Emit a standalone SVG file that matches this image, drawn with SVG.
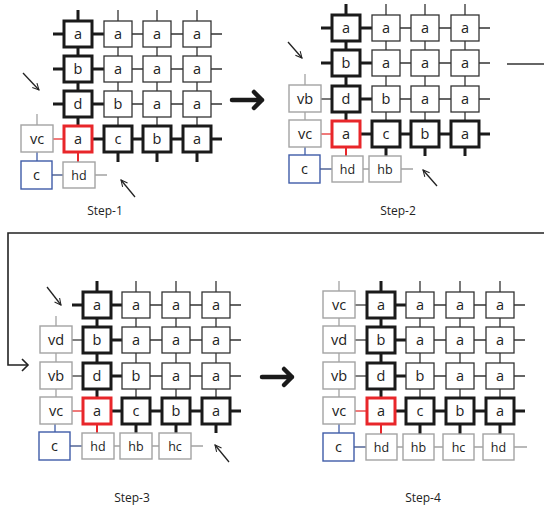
<svg xmlns="http://www.w3.org/2000/svg" width="544" height="507" viewBox="0 0 544 507">
<style>
.b{fill:#fff;stroke:#333;stroke-width:1.3}
.bk{fill:#fff;stroke:#1a1a1a;stroke-width:3}
.rd{fill:#fff;stroke:#e8262a;stroke-width:3}
.gy{fill:#fff;stroke:#a3a3a3;stroke-width:1.4}
.bl{fill:#fff;stroke:#3f5ca8;stroke-width:1.4}
.t{font-family:"Open Sans","DejaVu Sans",sans-serif;font-size:14.5px;text-anchor:middle;fill:#222}
.ts{font-family:"Open Sans","DejaVu Sans",sans-serif;font-size:12.5px;text-anchor:middle;fill:#222}
.lab{font-family:"Open Sans","DejaVu Sans",sans-serif;font-size:12px;text-anchor:middle;fill:#222}
.L{fill:none;stroke:#1a1a1a;stroke-width:3}
.l{fill:none;stroke:#333;stroke-width:1.3}
.ld{fill:none;stroke:#555;stroke-width:1.6}
.lr{fill:none;stroke:#f07a7a;stroke-width:2}
.lred{fill:none;stroke:#e8262a;stroke-width:2}
.lg{fill:none;stroke:#a3a3a3;stroke-width:1.3}
.lb{fill:none;stroke:#3f5ca8;stroke-width:1.3}
.lbg{fill:none;stroke:#7d8bb0;stroke-width:2}
.ar{fill:none;stroke:#222;stroke-width:1.3}
.big{fill:none;stroke:#1a1a1a;stroke-width:4.5;stroke-linecap:round;stroke-linejoin:round}
</style>
<defs>
<marker id="hd" viewBox="0 0 10 10" refX="9" refY="5" markerWidth="8" markerHeight="8" markerUnits="userSpaceOnUse" orient="auto">
<path d="M1,1 L9,5 L1,9" fill="none" stroke="#222" stroke-width="1.3"/>
</marker>
</defs>

<g id="connectors">
<!-- Step 1 -->
<path class="L" d="M78,10V21 M53,34H64 M53,69H64 M53,104H64 M92,34H104 M92,69H104 M92,104H104 M92,139H104 M132,139H143 M171,139H183 M211,139H222 M78,47V56 M78,82V91 M78,117V126 M118,152V162 M157,152V162 M197,152V162"/>
<path class="l" d="M118,10V21 M157,10V21 M197,10V21 M132,34H143 M171,34H183 M211,34H222 M132,69H143 M171,69H183 M211,69H222 M132,104H143 M171,104H183 M211,104H222 M118,47V56 M157,47V56 M197,47V56 M118,82V91 M157,82V91 M197,82V91 M118,117V126 M157,117V126 M197,117V126"/>
<path class="lr" d="M53,139H64"/>
<path class="lred" d="M78,152V162"/>
<path class="lg" d="M37,114V125 M95,175H107"/>
<path class="lb" d="M37,152V161"/>
<path class="lbg" d="M52,175H63"/>
<!-- Step 2 -->
<path class="L" d="M346,4V15 M321,28H332 M321,63H332 M360,28H372 M360,63H372 M360,99H372 M360,134H372 M400,134H411 M439,134H451 M479,134H490 M346,41V50 M346,76V86 M346,112V121 M386,147V156 M425,147V156 M465,147V156"/>
<path class="l" d="M386,4V15 M425,4V15 M465,4V15 M400,28H411 M439,28H451 M479,28H490 M400,63H411 M439,63H451 M479,63H490 M400,99H411 M439,99H451 M479,99H490 M386,41V50 M425,41V50 M465,41V50 M386,76V86 M425,76V86 M465,76V86 M386,112V121 M425,112V121 M465,112V121"/>
<path class="ld" d="M321,99H332"/>
<path class="lr" d="M321,134H332"/>
<path class="lred" d="M346,147V156"/>
<path class="lg" d="M305,74V85 M305,112V120 M363,169H369 M401,169H413"/>
<path class="lb" d="M305,147V155"/>
<path class="lbg" d="M320,169H332"/>
<!-- Step 3 -->
<path class="L" d="M97,281V292 M72,305H83 M111,305H122 M111,340H122 M111,376H122 M111,411H122 M150,411H162 M190,411H202 M230,411H241 M97,318V327 M97,353V363 M97,389V398 M136,424V433 M176,424V433 M216,424V433"/>
<path class="l" d="M136,281V292 M176,281V292 M216,281V292 M150,305H162 M190,305H202 M230,305H241 M150,340H162 M190,340H202 M230,340H241 M150,376H162 M190,376H202 M230,376H241 M136,318V327 M176,318V327 M216,318V327 M136,353V363 M176,353V363 M216,353V363 M136,389V398 M176,389V398 M216,389V398"/>
<path class="ld" d="M72,340H83 M72,376H83"/>
<path class="lr" d="M72,411H83"/>
<path class="lred" d="M97,424V433"/>
<path class="lg" d="M56,316V326 M56,353V362 M56,389V397 M114,446H120 M152,446H159 M191,446H203"/>
<path class="lb" d="M55,424V432"/>
<path class="lbg" d="M70,446H82"/>
<!-- Step 4 -->
<path class="L" d="M381,281V292 M395,305H406 M395,340H406 M395,376H406 M395,411H406 M434,411H446 M474,411H486 M514,411H525 M381,318V327 M381,353V363 M381,389V398 M420,424V434 M460,424V434 M500,424V434"/>
<path class="l" d="M420,281V292 M460,281V292 M500,281V292 M434,305H446 M474,305H486 M514,305H525 M434,340H446 M474,340H486 M514,340H525 M434,376H446 M474,376H486 M514,376H525 M420,318V327 M460,318V327 M500,318V327 M420,353V363 M460,353V363 M500,353V363 M420,389V398 M460,389V398 M500,389V398"/>
<path class="ld" d="M355,305H367 M355,340H367 M355,376H367"/>
<path class="lr" d="M355,411H367"/>
<path class="lred" d="M381,424V434"/>
<path class="lg" d="M339,281V291 M339,318V326 M339,353V362 M339,389V397 M397,447H403 M434,447H443 M474,447H483 M514,447H527"/>
<path class="lb" d="M339,424V433"/>
<path class="lbg" d="M354,447H366"/>
<!-- small pointer arrows -->
<path class="ar" d="M23,73L39,90" marker-end="url(#hd)"/>
<path class="ar" d="M135,197L121,180" marker-end="url(#hd)"/>
<path class="ar" d="M288,42L302,58" marker-end="url(#hd)"/>
<path class="ar" d="M437,186L423,170" marker-end="url(#hd)"/>
<path class="ar" d="M47,287L61,305" marker-end="url(#hd)"/>
<path class="ar" d="M229,462L215,445" marker-end="url(#hd)"/>
<!-- step transitions -->
<path class="big" d="M232,100H262 M254,92L262,100L254,108"/>
<path class="big" d="M262,377H292 M284,369L292,377L284,385"/>
<path fill="none" stroke="#333" stroke-width="1.6" d="M507,64H544"/>
<path fill="none" stroke="#222" stroke-width="1.6" d="M544,233H8V365H28"/>
<path fill="none" stroke="#222" stroke-width="1.6" d="M22,359L28,365L22,371"/>
</g>

<!-- STEP 1 -->
<g id="s1">
<g id="s1-r1c1"><rect class="bk" x="64" y="21" width="28" height="26"/><text class="t" x="78" y="39">a</text></g>
<g id="s1-r1c2"><rect class="b" x="104" y="21" width="28" height="26"/><text class="t" x="118" y="39">a</text></g>
<g id="s1-r1c3"><rect class="b" x="143" y="21" width="28" height="26"/><text class="t" x="157" y="39">a</text></g>
<g id="s1-r1c4"><rect class="b" x="183" y="21" width="28" height="26"/><text class="t" x="197" y="39">a</text></g>
<g id="s1-r2c1"><rect class="bk" x="64" y="56" width="28" height="26"/><text class="t" x="78" y="74">b</text></g>
<g id="s1-r2c2"><rect class="b" x="104" y="56" width="28" height="26"/><text class="t" x="118" y="74">a</text></g>
<g id="s1-r2c3"><rect class="b" x="143" y="56" width="28" height="26"/><text class="t" x="157" y="74">a</text></g>
<g id="s1-r2c4"><rect class="b" x="183" y="56" width="28" height="26"/><text class="t" x="197" y="74">a</text></g>
<g id="s1-r3c1"><rect class="bk" x="64" y="91" width="28" height="26"/><text class="t" x="78" y="109">d</text></g>
<g id="s1-r3c2"><rect class="b" x="104" y="91" width="28" height="26"/><text class="t" x="118" y="109">b</text></g>
<g id="s1-r3c3"><rect class="b" x="143" y="91" width="28" height="26"/><text class="t" x="157" y="109">a</text></g>
<g id="s1-r3c4"><rect class="b" x="183" y="91" width="28" height="26"/><text class="t" x="197" y="109">a</text></g>
<g id="s1-r4c1"><rect class="rd" x="64" y="126" width="28" height="26"/><text class="t" x="78" y="144">a</text></g>
<g id="s1-r4c2"><rect class="bk" x="104" y="126" width="28" height="26"/><text class="t" x="118" y="144">c</text></g>
<g id="s1-r4c3"><rect class="bk" x="143" y="126" width="28" height="26"/><text class="t" x="157" y="144">b</text></g>
<g id="s1-r4c4"><rect class="bk" x="183" y="126" width="28" height="26"/><text class="t" x="197" y="144">a</text></g>
<g id="s1-vc"><rect class="gy" x="21" y="125" width="32" height="27"/><text class="t" x="37" y="144">vc</text></g>
<g id="s1-c"><rect class="bl" x="21" y="161" width="31" height="28"/><text class="t" x="36.5" y="180">c</text></g>
<g id="s1-hd"><rect class="gy" x="63" y="162" width="32" height="26"/><text class="ts" x="79" y="180">hd</text></g>
<text class="lab" x="105" y="215">Step-1</text>
</g>

<!-- STEP 2 -->
<g id="s2">
<g id="s2-r1c1"><rect class="bk" x="332" y="15" width="28" height="26"/><text class="t" x="346" y="33">a</text></g>
<g id="s2-r1c2"><rect class="b" x="372" y="15" width="28" height="26"/><text class="t" x="386" y="33">a</text></g>
<g id="s2-r1c3"><rect class="b" x="411" y="15" width="28" height="26"/><text class="t" x="425" y="33">a</text></g>
<g id="s2-r1c4"><rect class="b" x="451" y="15" width="28" height="26"/><text class="t" x="465" y="33">a</text></g>
<g id="s2-r2c1"><rect class="bk" x="332" y="50" width="28" height="26"/><text class="t" x="346" y="68">b</text></g>
<g id="s2-r2c2"><rect class="b" x="372" y="50" width="28" height="26"/><text class="t" x="386" y="68">a</text></g>
<g id="s2-r2c3"><rect class="b" x="411" y="50" width="28" height="26"/><text class="t" x="425" y="68">a</text></g>
<g id="s2-r2c4"><rect class="b" x="451" y="50" width="28" height="26"/><text class="t" x="465" y="68">a</text></g>
<g id="s2-r3c1"><rect class="bk" x="332" y="86" width="28" height="26"/><text class="t" x="346" y="104">d</text></g>
<g id="s2-r3c2"><rect class="b" x="372" y="86" width="28" height="26"/><text class="t" x="386" y="104">b</text></g>
<g id="s2-r3c3"><rect class="b" x="411" y="86" width="28" height="26"/><text class="t" x="425" y="104">a</text></g>
<g id="s2-r3c4"><rect class="b" x="451" y="86" width="28" height="26"/><text class="t" x="465" y="104">a</text></g>
<g id="s2-r4c1"><rect class="rd" x="332" y="121" width="28" height="26"/><text class="t" x="346" y="139">a</text></g>
<g id="s2-r4c2"><rect class="bk" x="372" y="121" width="28" height="26"/><text class="t" x="386" y="139">c</text></g>
<g id="s2-r4c3"><rect class="bk" x="411" y="121" width="28" height="26"/><text class="t" x="425" y="139">b</text></g>
<g id="s2-r4c4"><rect class="bk" x="451" y="121" width="28" height="26"/><text class="t" x="465" y="139">a</text></g>
<g id="s2-vb"><rect class="gy" x="289" y="85" width="32" height="27"/><text class="t" x="305" y="104">vb</text></g>
<g id="s2-vc"><rect class="gy" x="289" y="120" width="32" height="27"/><text class="t" x="305" y="139">vc</text></g>
<g id="s2-c"><rect class="bl" x="289" y="155" width="31" height="28"/><text class="t" x="304.5" y="174">c</text></g>
<g id="s2-hd"><rect class="gy" x="332" y="156" width="31" height="26"/><text class="ts" x="347.5" y="174">hd</text></g>
<g id="s2-hb"><rect class="gy" x="369" y="156" width="32" height="26"/><text class="ts" x="385" y="174">hb</text></g>
<text class="lab" x="398" y="215">Step-2</text>
</g>

<!-- STEP 3 -->
<g id="s3">
<g id="s3-r1c1"><rect class="bk" x="83" y="292" width="28" height="26"/><text class="t" x="97" y="310">a</text></g>
<g id="s3-r1c2"><rect class="b" x="122" y="292" width="28" height="26"/><text class="t" x="136" y="310">a</text></g>
<g id="s3-r1c3"><rect class="b" x="162" y="292" width="28" height="26"/><text class="t" x="176" y="310">a</text></g>
<g id="s3-r1c4"><rect class="b" x="202" y="292" width="28" height="26"/><text class="t" x="216" y="310">a</text></g>
<g id="s3-r2c1"><rect class="bk" x="83" y="327" width="28" height="26"/><text class="t" x="97" y="345">b</text></g>
<g id="s3-r2c2"><rect class="b" x="122" y="327" width="28" height="26"/><text class="t" x="136" y="345">a</text></g>
<g id="s3-r2c3"><rect class="b" x="162" y="327" width="28" height="26"/><text class="t" x="176" y="345">a</text></g>
<g id="s3-r2c4"><rect class="b" x="202" y="327" width="28" height="26"/><text class="t" x="216" y="345">a</text></g>
<g id="s3-r3c1"><rect class="bk" x="83" y="363" width="28" height="26"/><text class="t" x="97" y="381">d</text></g>
<g id="s3-r3c2"><rect class="b" x="122" y="363" width="28" height="26"/><text class="t" x="136" y="381">b</text></g>
<g id="s3-r3c3"><rect class="b" x="162" y="363" width="28" height="26"/><text class="t" x="176" y="381">a</text></g>
<g id="s3-r3c4"><rect class="b" x="202" y="363" width="28" height="26"/><text class="t" x="216" y="381">a</text></g>
<g id="s3-r4c1"><rect class="rd" x="83" y="398" width="28" height="26"/><text class="t" x="97" y="416">a</text></g>
<g id="s3-r4c2"><rect class="bk" x="122" y="398" width="28" height="26"/><text class="t" x="136" y="416">c</text></g>
<g id="s3-r4c3"><rect class="bk" x="162" y="398" width="28" height="26"/><text class="t" x="176" y="416">b</text></g>
<g id="s3-r4c4"><rect class="bk" x="202" y="398" width="28" height="26"/><text class="t" x="216" y="416">a</text></g>
<g id="s3-vd"><rect class="gy" x="40" y="326" width="32" height="27"/><text class="t" x="56" y="345">vd</text></g>
<g id="s3-vb"><rect class="gy" x="40" y="362" width="32" height="27"/><text class="t" x="56" y="381">vb</text></g>
<g id="s3-vc"><rect class="gy" x="40" y="397" width="32" height="27"/><text class="t" x="56" y="416">vc</text></g>
<g id="s3-c"><rect class="bl" x="39" y="432" width="31" height="28"/><text class="t" x="54.5" y="451">c</text></g>
<g id="s3-hd"><rect class="gy" x="82" y="433" width="32" height="26"/><text class="ts" x="98" y="451">hd</text></g>
<g id="s3-hb"><rect class="gy" x="120" y="433" width="32" height="26"/><text class="ts" x="136" y="451">hb</text></g>
<g id="s3-hc"><rect class="gy" x="159" y="433" width="32" height="26"/><text class="ts" x="175" y="451">hc</text></g>
<text class="lab" x="132" y="502">Step-3</text>
</g>

<!-- STEP 4 -->
<g id="s4">
<g id="s4-r1c1"><rect class="bk" x="367" y="292" width="28" height="26"/><text class="t" x="381" y="310">a</text></g>
<g id="s4-r1c2"><rect class="b" x="406" y="292" width="28" height="26"/><text class="t" x="420" y="310">a</text></g>
<g id="s4-r1c3"><rect class="b" x="446" y="292" width="28" height="26"/><text class="t" x="460" y="310">a</text></g>
<g id="s4-r1c4"><rect class="b" x="486" y="292" width="28" height="26"/><text class="t" x="500" y="310">a</text></g>
<g id="s4-r2c1"><rect class="bk" x="367" y="327" width="28" height="26"/><text class="t" x="381" y="345">b</text></g>
<g id="s4-r2c2"><rect class="b" x="406" y="327" width="28" height="26"/><text class="t" x="420" y="345">a</text></g>
<g id="s4-r2c3"><rect class="b" x="446" y="327" width="28" height="26"/><text class="t" x="460" y="345">a</text></g>
<g id="s4-r2c4"><rect class="b" x="486" y="327" width="28" height="26"/><text class="t" x="500" y="345">a</text></g>
<g id="s4-r3c1"><rect class="bk" x="367" y="363" width="28" height="26"/><text class="t" x="381" y="381">d</text></g>
<g id="s4-r3c2"><rect class="b" x="406" y="363" width="28" height="26"/><text class="t" x="420" y="381">b</text></g>
<g id="s4-r3c3"><rect class="b" x="446" y="363" width="28" height="26"/><text class="t" x="460" y="381">a</text></g>
<g id="s4-r3c4"><rect class="b" x="486" y="363" width="28" height="26"/><text class="t" x="500" y="381">a</text></g>
<g id="s4-r4c1"><rect class="rd" x="367" y="398" width="28" height="26"/><text class="t" x="381" y="416">a</text></g>
<g id="s4-r4c2"><rect class="bk" x="406" y="398" width="28" height="26"/><text class="t" x="420" y="416">c</text></g>
<g id="s4-r4c3"><rect class="bk" x="446" y="398" width="28" height="26"/><text class="t" x="460" y="416">b</text></g>
<g id="s4-r4c4"><rect class="bk" x="486" y="398" width="28" height="26"/><text class="t" x="500" y="416">a</text></g>
<g id="s4-vc1"><rect class="gy" x="323" y="291" width="32" height="27"/><text class="t" x="339" y="310">vc</text></g>
<g id="s4-vd"><rect class="gy" x="323" y="326" width="32" height="27"/><text class="t" x="339" y="345">vd</text></g>
<g id="s4-vb"><rect class="gy" x="323" y="362" width="32" height="27"/><text class="t" x="339" y="381">vb</text></g>
<g id="s4-vc2"><rect class="gy" x="323" y="397" width="32" height="27"/><text class="t" x="339" y="416">vc</text></g>
<g id="s4-c"><rect class="bl" x="323" y="433" width="31" height="28"/><text class="t" x="338.5" y="452">c</text></g>
<g id="s4-hd1"><rect class="gy" x="366" y="434" width="31" height="26"/><text class="ts" x="381.5" y="452">hd</text></g>
<g id="s4-hb"><rect class="gy" x="403" y="434" width="31" height="26"/><text class="ts" x="418.5" y="452">hb</text></g>
<g id="s4-hc"><rect class="gy" x="443" y="434" width="31" height="26"/><text class="ts" x="458.5" y="452">hc</text></g>
<g id="s4-hd2"><rect class="gy" x="483" y="434" width="31" height="26"/><text class="ts" x="498.5" y="452">hd</text></g>
<text class="lab" x="423" y="502">Step-4</text>
</g>
</svg>
